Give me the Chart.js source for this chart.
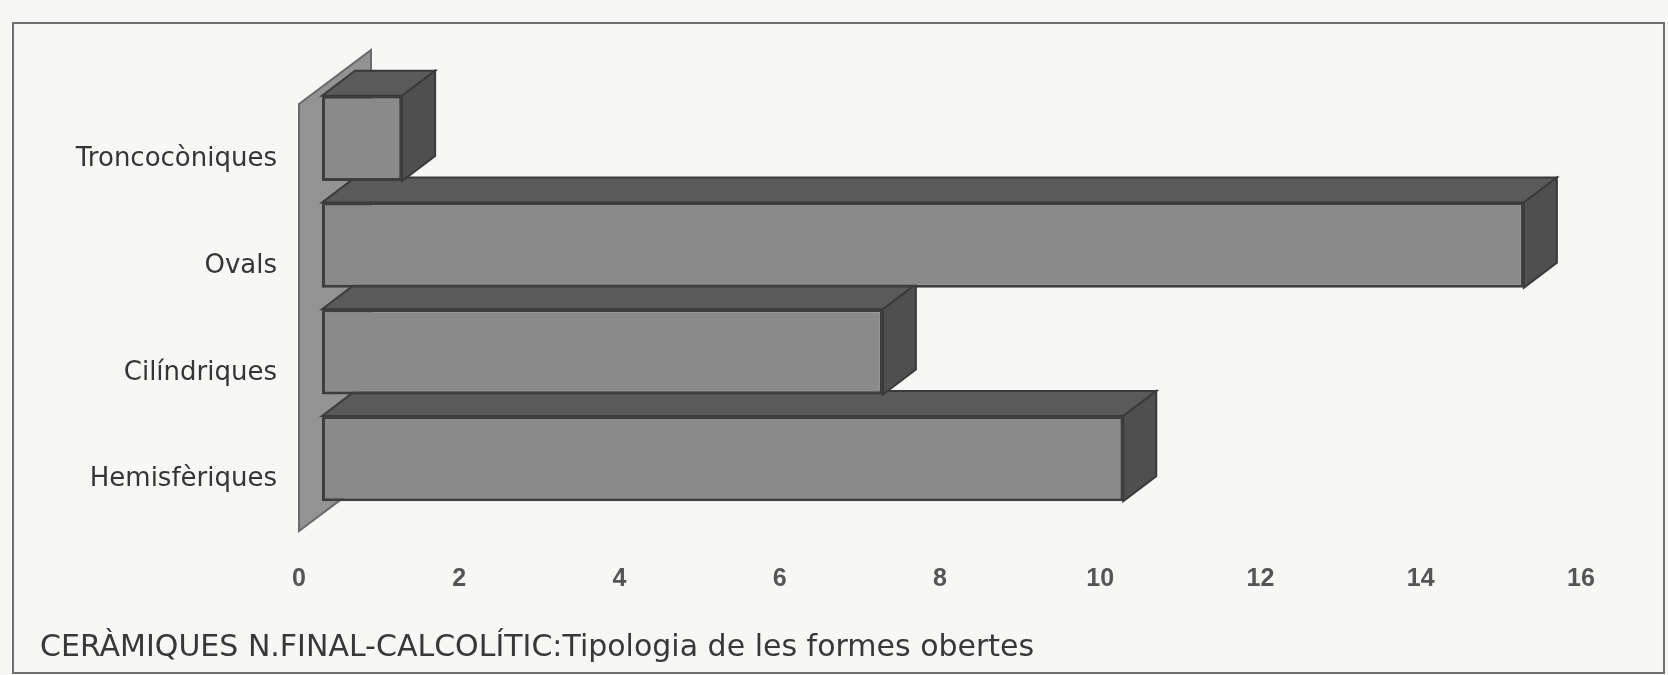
<!DOCTYPE html>
<html>
<head>
<meta charset="utf-8">
<script src="https://cdn.jsdelivr.net/npm/chart.js@4.4.1/dist/chart.umd.min.js"></script>
<style>
  body { margin: 0; background: #f7f7f5; }
  #wrap { width: 1668px; height: 675px; position: relative; }
</style>
</head>
<body>
<div id="wrap"><canvas id="chart"></canvas></div>
<script>
// categories, top to bottom as in the picture
const categories = ["Troncocòniques", "Ovals", "Cilíndriques", "Hemisfèriques"];
// number of vessels of each form
const pieces = [1, 15, 7, 10];
// value axis ticks
const tickValues = [0, 2, 4, 6, 8, 10, 12, 14, 16];
const titleText = "CERÀMIQUES N.FINAL-CALCOLÍTIC:Tipologia de les formes obertes";

// 3d look: depth of the boxes, shift of the front plane (labels, wall) and wall depth
const DEPTH = { x: 33, y: -25 };
const FRONT = { x: -23, y: 19 };
const WALL = { x: 72, y: -54 };

// small helper to fill + outline a polygon
function poly(ctx, pts, fill, stroke) {
    ctx.beginPath();
    ctx.moveTo(pts[0][0], pts[0][1]);
    for (let i = 1; i < pts.length; i++) {
        ctx.lineTo(pts[i][0], pts[i][1]);
    }
    ctx.closePath();
    ctx.fillStyle = fill;
    ctx.fill();
    ctx.strokeStyle = stroke;
    ctx.lineWidth = 2;
    ctx.stroke();
}

// draws paper, frame, side wall and the top/right faces of the bars
const boxes3d = {
    id: "boxes3d",
    beforeDraw(chart) {
        const ctx = chart.ctx;
        ctx.save();
        ctx.fillStyle = "#f7f7f5";
        ctx.fillRect(0, 0, chart.width, chart.height);
        ctx.strokeStyle = "#707070";
        ctx.lineWidth = 2;
        ctx.strokeRect(13, 23, 1651, 650);
        ctx.restore();
    },
    beforeDatasetsDraw(chart) {
        const ctx = chart.ctx;
        const area = chart.chartArea;
        const x0 = chart.scales.x.getPixelForValue(0);
        ctx.save();

        // left wall
        const fx = x0 + FRONT.x;
        const top = area.top + FRONT.y;
        const bottom = area.bottom + FRONT.y;
        poly(ctx, [[fx, top], [fx + WALL.x, top + WALL.y], [fx + WALL.x, bottom + WALL.y], [fx, bottom]], "#939393", "#6a6a6a");

        // side faces, lowest bar first
        const meta = chart.getDatasetMeta(0);
        for (let i = meta.data.length - 1; i >= 0; i--) {
            const p = meta.data[i].getProps(["x", "y", "base", "height"], true);
            const t = p.y - p.height / 2;
            const b = p.y + p.height / 2;
            poly(ctx, [[p.base, t], [p.base + DEPTH.x, t + DEPTH.y], [p.x + DEPTH.x, t + DEPTH.y], [p.x, t]], "#5a5a5a", "#3a3a3a");
            poly(ctx, [[p.x, t], [p.x + DEPTH.x, t + DEPTH.y], [p.x + DEPTH.x, b + DEPTH.y], [p.x, b]], "#4f4f4f", "#3a3a3a");
        }
        ctx.restore();
    }
};

const myChart = new Chart(document.getElementById("chart"), {
    type: "bar",
    data: {
        labels: categories,
        datasets: [
            {
                label: "Formes obertes",
                data: pieces,
                backgroundColor: "#8a8a8a",
                borderColor: "#3e3e3e",
                borderWidth: 3,
                borderSkipped: false,
                barPercentage: 0.8,
                categoryPercentage: 1,
            },
        ],
    },
    options: {
        indexAxis: "y",
        responsive: true,
        maintainAspectRatio: false,
        animation: false,
        layout: {
            padding: { left: 40, right: 64, top: 85, bottom: 9 },
        },
        scales: {
            x: {
                min: 0,
                max: 16,
                grid: { display: false },
                border: { display: false },
                afterBuildTicks: (scale) => {
                    scale.ticks = tickValues.map((v) => ({ value: v }));
                },
                afterFit: (scale) => {
                    scale.height = 118;
                },
                ticks: {
                    labelOffset: FRONT.x,
                    padding: 44,
                    color: "#555555",
                    font: { family: "Liberation Sans", size: 25, weight: "bold" },
                },
            },
            y: {
                grid: { display: false },
                border: { display: false },
                afterFit: (scale) => {
                    scale.width = 282;
                },
                ticks: {
                    labelOffset: FRONT.y + 2,
                    padding: 37,
                    color: "#353535",
                    font: { family: "DejaVu Sans", size: 26 },
                },
            },
        },
        plugins: {
            legend: { display: false },
            tooltip: { enabled: false },
            title: {
                display: true,
                text: titleText,
                position: "bottom",
                align: "start",
                color: "#383838",
                font: { family: "DejaVu Sans", size: 30, weight: "normal", lineHeight: 1.2 },
                padding: 0,
            },
        },
    },
    plugins: [boxes3d],
});
</script>
</body>
</html>
